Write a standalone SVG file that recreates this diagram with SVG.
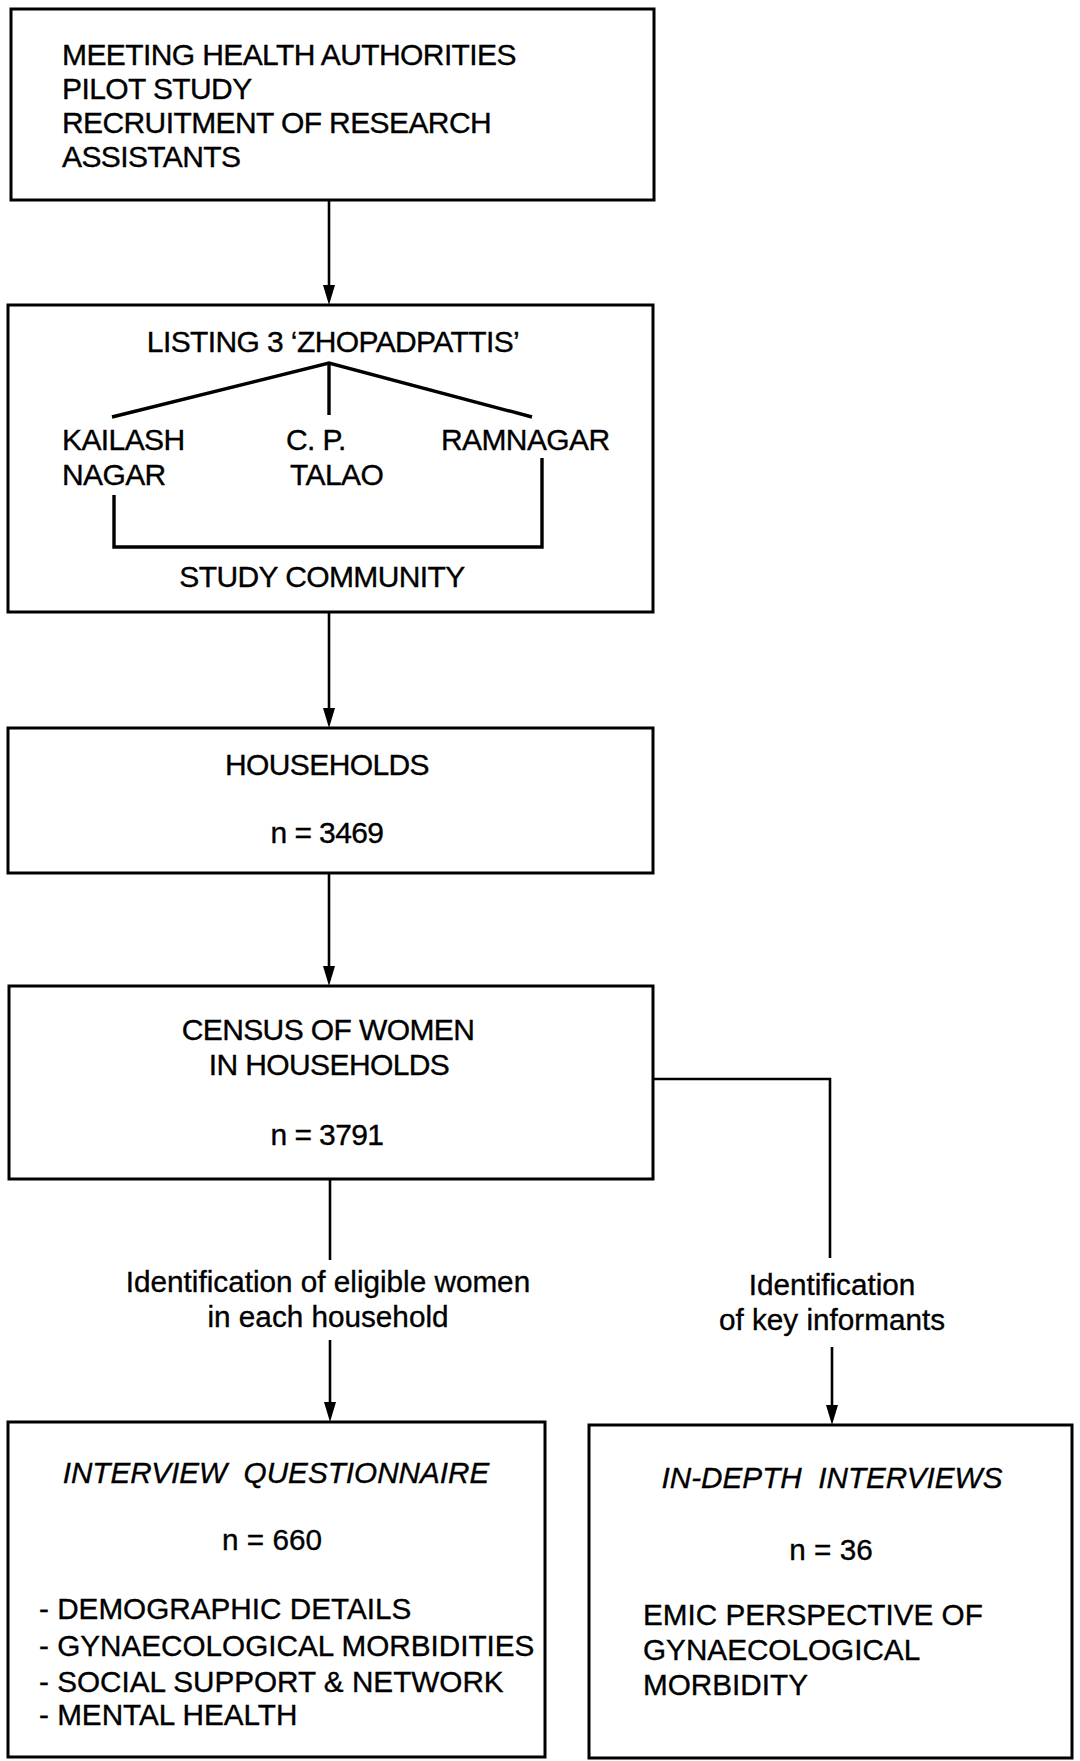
<svg xmlns="http://www.w3.org/2000/svg" width="1080" height="1761" viewBox="0 0 1080 1761">
<style>
  .box { fill: #ffffff; stroke: #000000; stroke-width: 3; }
  .ln { fill: none; stroke: #000000; stroke-width: 3.4; stroke-linejoin: miter; }
  .conn { fill: none; stroke: #000000; stroke-width: 2.6; }
  .t { font-family: "Liberation Sans", Arial, Helvetica, sans-serif; font-size: 30px; letter-spacing: -0.6px; fill: #000000; stroke: #000000; stroke-width: 0.35px; }
  .r { font-family: "Liberation Sans", Arial, Helvetica, sans-serif; font-size: 29.7px; fill: #000000; stroke: #000000; stroke-width: 0.35px; }
  .it { font-style: italic; }
  .c { text-anchor: middle; }
</style>
<defs>
  <marker id="arr" markerUnits="userSpaceOnUse" markerWidth="20" markerHeight="12" viewBox="0 0 20 12" refX="0" refY="6" orient="auto">
    <path d="M0,0 L20,6 L0,12 z" fill="#000000"/>
  </marker>
</defs>
<rect width="1080" height="1761" fill="#ffffff"/>

<g id="connectors">
  <line class="conn" x1="329" y1="200" x2="329" y2="285" marker-end="url(#arr)"/>
  <line class="conn" x1="329" y1="612" x2="329" y2="708" marker-end="url(#arr)"/>
  <line class="conn" x1="329" y1="873" x2="329" y2="966" marker-end="url(#arr)"/>
  <line class="conn" x1="330" y1="1179" x2="330" y2="1260"/>
  <line class="conn" x1="330" y1="1340" x2="330" y2="1402" marker-end="url(#arr)"/>
  <polyline class="conn" points="653,1079 830,1079 830,1258"/>
  <line class="conn" x1="832" y1="1347" x2="832" y2="1405" marker-end="url(#arr)"/>
  <g id="edge-labels">
    <text class="r c" x="328" y="1292">Identification of eligible women</text>
    <text class="r c" x="328" y="1327">in each household</text>
    <text class="r c" x="832" y="1295">Identification</text>
    <text class="r c" x="832" y="1330">of key informants</text>
  </g>
</g>

<g id="node-preparation">
  <rect class="box" x="11" y="9" width="643" height="191"/>
  <text class="t" x="62" y="65">MEETING HEALTH AUTHORITIES</text>
  <text class="t" x="62" y="99">PILOT STUDY</text>
  <text class="t" x="62" y="133">RECRUITMENT OF RESEARCH</text>
  <text class="t" x="62" y="167">ASSISTANTS</text>
</g>

<g id="node-listing">
  <rect class="box" x="8" y="305" width="645" height="307"/>
  <text class="t c" x="333" y="352">LISTING 3 ‘ZHOPADPATTIS’</text>
  <polyline class="ln" points="112,417 329,363 532,417"/>
  <line class="ln" x1="329" y1="363" x2="329" y2="415"/>
  <text class="t" x="62" y="450">KAILASH</text>
  <text class="t" x="62" y="485">NAGAR</text>
  <text class="t" x="286" y="450">C. P.</text>
  <text class="t" x="290" y="485">TALAO</text>
  <text class="t" x="441" y="450">RAMNAGAR</text>
  <polyline class="ln" points="114,495 114,547 542,547 542,458"/>
  <text class="t c" x="322" y="587">STUDY COMMUNITY</text>
</g>

<g id="node-households">
  <rect class="box" x="8" y="728" width="645" height="145"/>
  <text class="t c" x="327" y="775">HOUSEHOLDS</text>
  <text class="t c" x="327" y="843">n = 3469</text>
</g>

<g id="node-census">
  <rect class="box" x="9" y="986" width="644" height="193"/>
  <text class="t c" x="328" y="1040">CENSUS OF WOMEN</text>
  <text class="t c" x="329" y="1075">IN HOUSEHOLDS</text>
  <text class="t c" x="327" y="1145">n = 3791</text>
</g>

<g id="node-questionnaire">
  <rect class="box" x="8" y="1422" width="537" height="335"/>
  <text class="r it c" x="276" y="1483" xml:space="preserve">INTERVIEW  QUESTIONNAIRE</text>
  <text class="r c" x="272" y="1550">n = 660</text>
  <text class="r" x="39" y="1619">- DEMOGRAPHIC DETAILS</text>
  <text class="r" x="39" y="1656">- GYNAECOLOGICAL MORBIDITIES</text>
  <text class="r" x="39" y="1692">- SOCIAL SUPPORT &amp; NETWORK</text>
  <text class="r" x="39" y="1725">- MENTAL HEALTH</text>
</g>

<g id="node-indepth">
  <rect class="box" x="589" y="1425" width="483" height="333"/>
  <text class="r it c" x="832" y="1488" xml:space="preserve">IN-DEPTH  INTERVIEWS</text>
  <text class="r c" x="831" y="1560">n = 36</text>
  <text class="r" x="643" y="1625">EMIC PERSPECTIVE OF</text>
  <text class="r" x="643" y="1660">GYNAECOLOGICAL</text>
  <text class="r" x="643" y="1695">MORBIDITY</text>
</g>
</svg>
